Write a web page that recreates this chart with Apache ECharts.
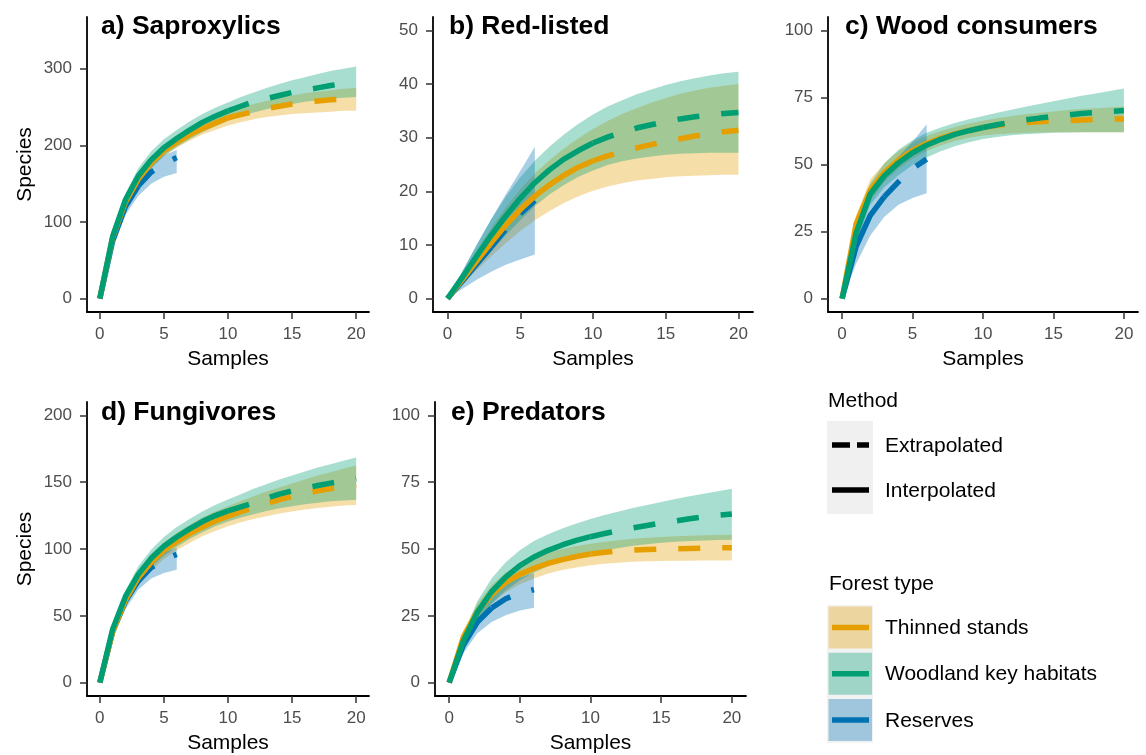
<!DOCTYPE html>
<html>
<head>
<meta charset="utf-8">
<script src="https://cdn.jsdelivr.net/npm/echarts@6/dist/echarts.min.js"></script>
<style>
  html, body { margin: 0; padding: 0; background: #fff; }
  #chart { width: 1146px; height: 755px; }
</style>
</head>
<body>
<div id="chart"></div>
<script>
// sample axis
const xTicks = [0, 5, 10, 15, 20];
const sampleX = [0, 1, 2, 3, 4, 5, 6, 7, 8, 9, 10, 11, 12, 13, 14, 15, 16, 17, 18, 19, 20];
const reserveX = [0, 1, 2, 3, 4, 5, 6];
// reference sample sizes (interpolated up to here, extrapolated after)
const refThinned = 10;
const refWoodland = 10;
const refReserves = 3;

const forestTypes = ['Thinned stands', 'Woodland key habitats', 'Reserves'];
const methodLabels = ['Extrapolated', 'Interpolated'];

// a) Saproxylics
const sapTicks = [0, 100, 200, 300];
const sapThinned = [0, 80, 126, 156, 177, 193, 204, 214, 222, 229, 236, 240, 244, 248, 251, 254, 256, 258, 259.5, 260.5, 261];
const sapThinnedLo = [0, 76, 120, 149, 170, 186, 197, 206, 214, 220, 226, 230, 234, 237, 239, 241, 242, 243, 244, 245, 245];
const sapThinnedHi = [0, 84, 132, 163, 185, 201, 213, 222, 230, 237, 244, 249, 254, 258, 262, 265, 268, 270, 272, 274, 275];
const sapWoodland = [0, 81, 129, 160, 181, 197, 209, 220, 230, 238, 245, 251, 257, 261, 265, 269, 272, 275, 278, 281, 283];
const sapWoodlandLo = [0, 76, 121, 150, 170, 186, 198, 208, 217, 225, 232, 238, 243, 247, 251, 254, 257, 259, 261, 262, 263];
const sapWoodlandHi = [0, 86, 137, 170, 192, 208, 220, 231, 241, 249, 256, 263, 269, 275, 280, 285, 289, 293, 297, 300, 303];
const sapReserves = [0, 75, 120, 147, 165, 176, 184];
const sapReservesLo = [0, 68, 109, 134, 150, 159, 164];
const sapReservesHi = [0, 83, 131, 160, 176, 187, 194];

// b) Red-listed
const redTicks = [0, 10, 20, 30, 40, 50];
const redThinned = [0, 3.5, 7, 10.4, 13.7, 16.6, 19.1, 21.2, 23, 24.5, 25.7, 26.6, 27.4, 28.1, 28.7, 29.3, 29.8, 30.3, 30.7, 31.1, 31.4];
const redThinnedLo = [0, 2.6, 5.3, 7.9, 10.3, 12.6, 14.6, 16.3, 17.8, 19.1, 20.1, 20.9, 21.5, 22, 22.3, 22.6, 22.8, 22.9, 23, 23.1, 23.1];
const redThinnedHi = [0, 4.5, 9, 13.2, 17, 20.4, 23.3, 25.8, 28, 29.9, 31.6, 33.1, 34.4, 35.5, 36.5, 37.4, 38.2, 38.8, 39.3, 39.7, 40];
const redWoodland = [0, 3.9, 7.9, 11.8, 15.4, 18.7, 21.6, 24, 26, 27.6, 29, 30.1, 31, 31.8, 32.4, 33, 33.5, 33.9, 34.2, 34.5, 34.7];
const redWoodlandLo = [0, 2.8, 5.8, 8.8, 11.8, 14.6, 17.2, 19.4, 21.2, 22.7, 23.9, 24.9, 25.6, 26.1, 26.5, 26.8, 27, 27.1, 27.2, 27.2, 27.2];
const redWoodlandHi = [0, 5, 10, 14.8, 19, 22.6, 25.7, 28.3, 30.6, 32.6, 34.3, 35.8, 37, 38.1, 39, 39.8, 40.5, 41.1, 41.6, 42, 42.3];
const redReserves = [0, 3.2, 6.4, 9.6, 12.9, 15.8, 18.3];
const redReservesLo = [0, 1.8, 3.5, 5, 6.3, 7.3, 8.2];
const redReservesHi = [0, 5, 10, 14.8, 19.4, 23.8, 28.3];

// c) Wood consumers
const woodTicks = [0, 25, 50, 75, 100];
const woodThinned = [0, 28, 40.5, 47, 51.7, 55.2, 57.8, 59.8, 61.4, 62.7, 63.8, 64.6, 65.2, 65.6, 65.9, 66.2, 66.4, 66.6, 66.8, 66.9, 67];
const woodThinnedLo = [0, 25, 36.5, 43.5, 48.4, 52.1, 55, 57.1, 58.8, 60, 60.8, 61.3, 61.6, 61.8, 61.9, 62, 62, 62, 62, 62, 62];
const woodThinnedHi = [0, 31, 44.5, 50.5, 55, 58.3, 60.6, 62.5, 64, 65.3, 66.3, 67.2, 68, 68.7, 69.3, 69.8, 70.3, 70.7, 71, 71.3, 71.6];
const woodWoodland = [0, 24.5, 39, 45.8, 50.6, 54.4, 57.2, 59.4, 61.2, 62.6, 63.8, 64.8, 65.8, 66.6, 67.3, 67.9, 68.5, 69, 69.4, 69.8, 70.1];
const woodWoodlandLo = [0, 21, 35, 41.5, 46, 49.8, 52.6, 54.9, 56.8, 58.3, 59.5, 60.3, 60.9, 61.3, 61.6, 61.8, 61.9, 62, 62, 62, 62];
const woodWoodlandHi = [0, 28, 43, 50.5, 55.5, 59, 61.8, 63.8, 65.5, 66.9, 68.1, 69.3, 70.4, 71.5, 72.6, 73.6, 74.6, 75.6, 76.5, 77.4, 78.3];
const woodReserves = [0, 19.5, 31, 38, 43.5, 48.5, 52];
const woodReservesLo = [0, 13, 23.5, 30.5, 35, 37.5, 39.3];
const woodReservesHi = [0, 26, 40, 47.5, 53, 58.5, 65];

// d) Fungivores
const fungTicks = [0, 50, 100, 150, 200];
const fungThinned = [0, 38, 62, 78.5, 90, 99, 105.5, 111.5, 116.5, 121, 124.5, 128, 131, 134, 137, 139.5, 141.5, 143.5, 145.3, 146.8, 148];
const fungThinnedLo = [0, 35, 57.5, 73, 84, 92.5, 99, 104.5, 109.5, 113.5, 117, 120, 122.5, 124.5, 126.5, 128, 129.5, 130.7, 131.7, 132.5, 133];
const fungThinnedHi = [0, 41, 66.5, 84, 96, 105, 112, 118, 123.5, 128, 132, 136, 139.5, 143, 146, 149, 152, 155, 157.5, 160, 162.5];
const fungWoodland = [0, 40, 64.5, 81, 93, 102, 109, 115, 120.5, 125, 128.5, 131.5, 134.5, 138, 141, 143.5, 145.5, 147.5, 149.3, 151, 152.5];
const fungWoodlandLo = [0, 37, 60, 75.5, 86.5, 95, 101.5, 107.5, 112.5, 117, 120.5, 123.5, 126, 128.5, 130.5, 132, 133.5, 134.7, 135.7, 136.3, 136.8];
const fungWoodlandHi = [0, 43, 69, 87, 99.5, 109, 116.5, 122.5, 128, 133, 137, 141, 145, 148.5, 152, 155, 158, 161, 163.5, 166, 168.5];
const fungReserves = [0, 38, 61, 76, 86, 92, 96];
const fungReservesLo = [0, 35, 55, 69.5, 78, 82, 84.5];
const fungReservesHi = [0, 41, 66, 82.5, 93, 97.5, 101];

// e) Predators
const predTicks = [0, 25, 50, 75, 100];
const predThinned = [0, 17, 26.5, 33, 37.5, 40.5, 42.8, 44.6, 46, 47.2, 48.1, 48.8, 49.3, 49.6, 49.8, 50, 50.1, 50.2, 50.3, 50.4, 50.5];
const predThinnedLo = [0, 14.5, 23.5, 29.5, 33.8, 36.8, 39, 40.8, 42.1, 43.1, 43.9, 44.5, 44.9, 45.2, 45.4, 45.5, 45.6, 45.6, 45.7, 45.7, 45.7];
const predThinnedHi = [0, 19.5, 29.5, 36.5, 41.2, 44.3, 46.7, 48.6, 50, 51.1, 52, 52.7, 53.3, 53.8, 54.2, 54.5, 54.8, 55, 55.1, 55.2, 55.3];
const predWoodland = [0, 15.5, 26.4, 34, 39.5, 43.8, 47, 49.5, 51.5, 53.2, 54.6, 55.8, 56.9, 57.9, 58.8, 59.7, 60.5, 61.3, 62, 62.6, 63.1];
const predWoodlandLo = [0, 13, 22.5, 29.5, 34.5, 38.3, 41.2, 43.6, 45.5, 47.1, 48.4, 49.5, 50.4, 51.2, 51.8, 52.3, 52.7, 53, 53.2, 53.4, 53.5];
const predWoodlandHi = [0, 18, 30.5, 39, 45, 49.5, 53, 55.5, 57.7, 59.5, 61.2, 62.7, 64, 65.3, 66.5, 67.6, 68.7, 69.7, 70.7, 71.6, 72.5];
const predReserves = [0, 14, 22.7, 27.9, 31.4, 33.5, 34.8];
const predReservesLo = [0, 11, 18.5, 22.7, 25.2, 27, 28];
const predReservesHi = [0, 17, 27, 33, 37, 39.2, 41];

const FONT = '"Liberation Sans", Arial, sans-serif';
const lineColors = ['#E69F00', '#009E73', '#0072B2'];
const bandColors = ['rgba(230,159,0,0.34)', 'rgba(0,158,115,0.34)', 'rgba(0,114,178,0.34)'];

const panels = [
    { title: 'a) Saproxylics', ticks: sapTicks, min: -17.5, max: 367.5, yName: 'Species',
      grid: { left: 87, top: 17, width: 282, height: 295 }, titleAt: [101, 27],
      data: [[sapThinned, sapThinnedLo, sapThinnedHi], [sapWoodland, sapWoodlandLo, sapWoodlandHi], [sapReserves, sapReservesLo, sapReservesHi]] },
    { title: 'b) Red-listed', ticks: redTicks, min: -2.5, max: 52.5, yName: '',
      grid: { left: 433, top: 17, width: 320, height: 295 }, titleAt: [449, 27],
      data: [[redThinned, redThinnedLo, redThinnedHi], [redWoodland, redWoodlandLo, redWoodlandHi], [redReserves, redReservesLo, redReservesHi]] },
    { title: 'c) Wood consumers', ticks: woodTicks, min: -5, max: 105, yName: '',
      grid: { left: 828, top: 17, width: 310, height: 295 }, titleAt: [845, 27],
      data: [[woodThinned, woodThinnedLo, woodThinnedHi], [woodWoodland, woodWoodlandLo, woodWoodlandHi], [woodReserves, woodReservesLo, woodReservesHi]] },
    { title: 'd) Fungivores', ticks: fungTicks, min: -10, max: 210, yName: 'Species',
      grid: { left: 87, top: 402, width: 282, height: 295 }, titleAt: [101, 413],
      data: [[fungThinned, fungThinnedLo, fungThinnedHi], [fungWoodland, fungWoodlandLo, fungWoodlandHi], [fungReserves, fungReservesLo, fungReservesHi]] },
    { title: 'e) Predators', ticks: predTicks, min: -5, max: 105, yName: '',
      grid: { left: 435, top: 402, width: 311, height: 295 }, titleAt: [451, 413],
      data: [[predThinned, predThinnedLo, predThinnedHi], [predWoodland, predWoodlandLo, predWoodlandHi], [predReserves, predReservesLo, predReservesHi]] }
];

const groupX = [sampleX, sampleX, reserveX];
const groupRef = [refThinned, refWoodland, refReserves];

function pairs(xs, ys) {
    return xs.map((x, i) => [x, ys[i]]);
}

// confidence band as one polygon, placed through the axis scales
function bandSeries(k, xs, lo, hi, color) {
    return {
        type: 'custom', xAxisIndex: k, yAxisIndex: k, silent: true, z: 1,
        data: [[0, 0]],
        renderItem: function(params, api) {
            const pts = [];
            for (let i = 0; i < xs.length; i++) pts.push(api.coord([xs[i], hi[i]]));
            for (let i = xs.length - 1; i >= 0; i--) pts.push(api.coord([xs[i], lo[i]]));
            return { type: 'polygon', shape: { points: pts }, style: { fill: color } };
        }
    };
}

function curveSeries(k, xs, ys, ref, color, dashed) {
    const data = pairs(xs, ys).filter(p => dashed ? p[0] >= ref : p[0] <= ref);
    return {
        type: 'line', xAxisIndex: k, yAxisIndex: k, silent: true, z: 3,
        data: data, symbol: 'none', showSymbol: false,
        lineStyle: { color: color, width: 5.5, type: dashed ? [22, 22] : 'solid', cap: 'butt' }
    };
}

const grids = [], xAxes = [], yAxes = [], series = [], graphics = [];
const drawOrder = [2, 0, 1]; // reserves, thinned, woodland (woodland on top)

panels.forEach((p, k) => {
    grids.push(Object.assign({ containLabel: false }, p.grid));
    xAxes.push({
        type: 'value', gridIndex: k, min: -1, max: 21,
        name: 'Samples', nameLocation: 'middle', nameGap: 37,
        nameTextStyle: { fontSize: 21, color: '#000', fontFamily: FONT },
        axisLine: { onZero: false, lineStyle: { color: '#000', width: 1.8 } },
        axisTick: { length: 7, customValues: xTicks, lineStyle: { color: '#333', width: 1.5 } },
        axisLabel: { customValues: xTicks, margin: 14, fontSize: 17, color: '#4d4d4d', fontFamily: FONT },
        splitLine: { show: false }
    });
    yAxes.push({
        type: 'value', gridIndex: k, min: p.min, max: p.max,
        name: p.yName, nameLocation: 'middle', nameGap: 51,
        nameTextStyle: { fontSize: 21, color: '#000', fontFamily: FONT },
        axisLine: { show: true, onZero: false, lineStyle: { color: '#000', width: 1.8 } },
        axisTick: { show: true, length: 7, customValues: p.ticks, lineStyle: { color: '#333', width: 1.5 } },
        axisLabel: { customValues: p.ticks, margin: 15, fontSize: 17, color: '#4d4d4d', fontFamily: FONT },
        splitLine: { show: false }
    });
    [0, 1, 2].forEach(g => {
        const d = p.data[g];
        series.push(bandSeries(k, groupX[g], d[1], d[2], bandColors[g]));
    });
    drawOrder.forEach(g => {
        const d = p.data[g];
        series.push(curveSeries(k, groupX[g], d[0], groupRef[g], lineColors[g], false));
        series.push(curveSeries(k, groupX[g], d[0], groupRef[g], lineColors[g], true));
    });
    graphics.push({
        type: 'text', x: p.titleAt[0], y: p.titleAt[1], silent: true,
        style: { text: p.title, fill: '#000', fontSize: 26.5, fontWeight: 'bold', fontFamily: FONT, align: 'left', verticalAlign: 'middle' }
    });
});

// legend: Method
const labelStyle = { fill: '#000', fontSize: 21, fontFamily: FONT, align: 'left', verticalAlign: 'middle' };
graphics.push({ type: 'text', x: 828, y: 401, style: Object.assign({ text: 'Method' }, labelStyle) });
graphics.push({ type: 'rect', shape: { x: 827, y: 421, width: 46, height: 93 }, style: { fill: '#f0f0f0' } });
graphics.push({ type: 'line', shape: { x1: 832, y1: 445, x2: 869, y2: 445 }, style: { stroke: '#000', lineWidth: 5.5, lineDash: [18, 7] } });
graphics.push({ type: 'line', shape: { x1: 832, y1: 490, x2: 869, y2: 490 }, style: { stroke: '#000', lineWidth: 5.5 } });
graphics.push({ type: 'text', x: 885, y: 446, style: Object.assign({ text: methodLabels[0] }, labelStyle) });
graphics.push({ type: 'text', x: 885, y: 491, style: Object.assign({ text: methodLabels[1] }, labelStyle) });

// legend: Forest type
graphics.push({ type: 'text', x: 829, y: 584, style: Object.assign({ text: 'Forest type' }, labelStyle) });
graphics.push({ type: 'rect', shape: { x: 827, y: 605, width: 46, height: 138 }, style: { fill: '#f2f2f2' } });
forestTypes.forEach((name, g) => {
    const top = 606.5 + g * 46.2;
    graphics.push({ type: 'rect', shape: { x: 828.5, y: top, width: 43.5, height: 42 }, style: { fill: bandColors[g] } });
    graphics.push({ type: 'line', shape: { x1: 832, y1: top + 21, x2: 869, y2: top + 21 }, style: { stroke: lineColors[g], lineWidth: 5.5 } });
    graphics.push({ type: 'text', x: 885, y: top + 22, style: Object.assign({ text: name }, labelStyle) });
});

const chart = echarts.init(document.getElementById('chart'), null, { renderer: 'canvas' });
chart.setOption({
    animation: false,
    backgroundColor: '#fff',
    grid: grids,
    xAxis: xAxes,
    yAxis: yAxes,
    series: series,
    graphic: graphics
});

window.addEventListener('resize', function() {
    chart.resize();
});
</script>
</body>
</html>
